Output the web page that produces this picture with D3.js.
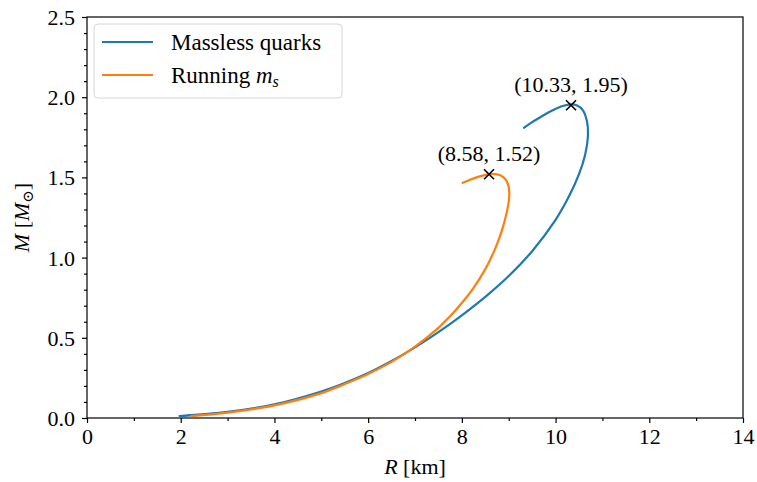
<!DOCTYPE html>
<html lang="en">
<head>
<meta charset="UTF-8" />
<title>Mass-radius</title>
<script src="https://d3js.org/d3.v7.min.js"></script>
<style>
  body { margin: 0; background: #fff; }
  svg { display: block; font-family: "Liberation Serif", "DejaVu Serif", serif; }
  .axis text { font-size: 22px; font-family: "Liberation Serif", serif; }
  .axis path, .axis line { stroke: #000; stroke-width: 1.2; }
</style>
</head>
<body>
<svg id="chart" width="757" height="482"></svg>
<script>
// massless quarks branch (R in km, M in solar masses)
const masslessR = [1.98, 3.0, 4.0, 5.0, 5.5, 6.0, 6.5, 7.0, 7.5, 8.0, 8.5, 9.0, 9.5, 10.0, 10.3, 10.5, 10.63, 10.69, 10.67, 10.58, 10.46, 10.33, 10.15, 9.95, 9.7, 9.5, 9.33];
const masslessM = [0.012, 0.038, 0.085, 0.165, 0.218, 0.28, 0.355, 0.44, 0.535, 0.64, 0.755, 0.885, 1.04, 1.235, 1.39, 1.52, 1.64, 1.755, 1.85, 1.92, 1.948, 1.955, 1.945, 1.92, 1.88, 1.845, 1.81];
// running strange quark mass branch
const runningR = [2.23, 3.0, 4.0, 5.0, 5.5, 6.0, 6.5, 7.0, 7.5, 7.75, 8.0, 8.25, 8.5, 8.7, 8.85, 8.96, 9.01, 9.0, 8.94, 8.84, 8.72, 8.58, 8.4, 8.2, 8.02];
const runningM = [0.012, 0.034, 0.079, 0.155, 0.212, 0.275, 0.35, 0.445, 0.562, 0.635, 0.717, 0.812, 0.928, 1.048, 1.165, 1.285, 1.375, 1.44, 1.485, 1.51, 1.52, 1.52, 1.508, 1.488, 1.466];
// maximum-mass points
const maxPoints = [
  { r: 10.33, m: 1.95, label: "(10.33, 1.95)" },
  { r: 8.58, m: 1.52, label: "(8.58, 1.52)" }
];
const xTicks = [0, 2, 4, 6, 8, 10, 12, 14];
const yTicks = [0.0, 0.5, 1.0, 1.5, 2.0, 2.5];

const svg = d3.select("#chart");
const margin = { top: 17, right: 14, bottom: 64, left: 87 };
const W = 757, H = 482;
const w = W - margin.left - margin.right;
const h = H - margin.top - margin.bottom;

const x = d3.scaleLinear().domain([0, 14]).range([0, w]);
const y = d3.scaleLinear().domain([0, 2.5]).range([h, 0]);

const g = svg.append("g").attr("transform", `translate(${margin.left},${margin.top})`);

// minor ticks
const xMinor = d3.range(0, 14.01, 1).filter(v => v % 2 !== 0);
const yMinor = d3.range(0, 2.501, 0.1).filter(v => Math.abs(v * 2 - Math.round(v * 2)) > 1e-6);

g.append("g").attr("class", "axis")
  .attr("transform", `translate(0,${h})`)
  .call(d3.axisBottom(x).tickValues(xMinor).tickSize(3).tickFormat(""))
  .call(a => a.select(".domain").remove());
g.append("g").attr("class", "axis")
  .call(d3.axisLeft(y).tickValues(yMinor).tickSize(3).tickFormat(""))
  .call(a => a.select(".domain").remove());

const xAx = g.append("g").attr("class", "axis")
  .attr("transform", `translate(0,${h})`)
  .call(d3.axisBottom(x).tickValues(xTicks).tickSize(5).tickPadding(5).tickFormat(d3.format("d")));
xAx.select(".domain").remove();

const yAx = g.append("g").attr("class", "axis")
  .call(d3.axisLeft(y).tickValues(yTicks).tickSize(5).tickPadding(7).tickFormat(d3.format(".1f")));
yAx.select(".domain").remove();
yAx.selectAll("text").attr("dy", "0.34em");

// frame
g.append("rect")
  .attr("width", w).attr("height", h)
  .attr("fill", "none").attr("stroke", "#000").attr("stroke-width", 1.2);

// curves
const line = d3.line()
  .curve(d3.curveCatmullRom.alpha(0.5))
  .x(d => x(d[0]))
  .y(d => y(d[1]));

const series = [
  { name: "massless", color: "#1f77b4", pts: masslessR.map((r, i) => [r, masslessM[i]]) },
  { name: "running", color: "#ff7f0e", pts: runningR.map((r, i) => [r, runningM[i]]) }
];

series.forEach(s => {
  g.append("path")
    .datum(s.pts)
    .attr("fill", "none")
    .attr("stroke", s.color)
    .attr("stroke-width", 2.2)
    .attr("stroke-linecap", "square")
    .attr("d", line);
});

// max markers + labels
maxPoints.forEach(p => {
  const cx = x(p.r), cy = y(p.m), s = 5;
  g.append("path")
    .attr("d", `M${cx - s},${cy - s}L${cx + s},${cy + s}M${cx - s},${cy + s}L${cx + s},${cy - s}`)
    .attr("stroke", "#000").attr("stroke-width", 1.6);
  g.append("text")
    .attr("x", cx).attr("y", cy - 13)
    .attr("text-anchor", "middle")
    .attr("font-size", "22px")
    .text(p.label);
});

// axis labels
const xl = svg.append("text")
  .attr("x", margin.left + w / 2).attr("y", 474)
  .attr("text-anchor", "middle").attr("font-size", "22px");
xl.append("tspan").attr("font-style", "italic").text("R");
xl.append("tspan").text(" [km]");

const yl = svg.append("text")
  .attr("transform", `translate(29,${margin.top + h / 2}) rotate(-90)`)
  .attr("text-anchor", "middle").attr("font-size", "22px");
yl.append("tspan").attr("font-style", "italic").text("M");
yl.append("tspan").text(" [");
yl.append("tspan").attr("font-style", "italic").text("M");
yl.append("tspan").attr("font-size", "15px").attr("dy", "4").text("⊙");
yl.append("tspan").attr("dy", "-4").text("]");

// legend
const legend = svg.append("g").attr("transform", "translate(94,24)");
legend.append("rect")
  .attr("width", 248).attr("height", 74)
  .attr("rx", 4)
  .attr("fill", "#fff").attr("fill-opacity", 0.8)
  .attr("stroke", "#d6d6d6").attr("stroke-width", 1);

const legendItems = [
  { color: "#1f77b4", parts: [["Massless quarks", null]] },
  { color: "#ff7f0e", parts: [["Running ", null], ["m", "italic"], ["s", "sub"]] }
];
legendItems.forEach((it, i) => {
  const yy = 18 + i * 33;
  legend.append("line")
    .attr("x1", 8).attr("x2", 59).attr("y1", yy).attr("y2", yy)
    .attr("stroke", it.color).attr("stroke-width", 2.2);
  const t = legend.append("text")
    .attr("x", 77).attr("y", yy).attr("dy", "0.34em")
    .attr("font-size", "23px");
  it.parts.forEach(([txt, style]) => {
    const ts = t.append("tspan").text(txt);
    if (style === "italic") ts.attr("font-style", "italic");
    if (style === "sub") ts.attr("font-style", "italic").attr("font-size", "16px").attr("dy", "4");
  });
});
</script>
</body>
</html>
